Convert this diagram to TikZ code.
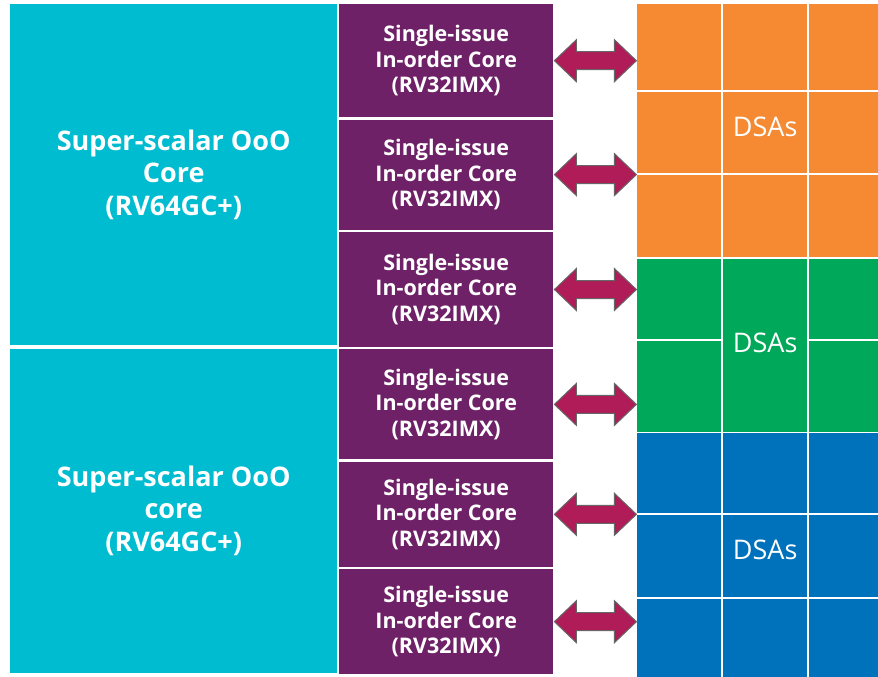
\documentclass[tikz,border=0pt]{standalone}
\usepackage{fontspec}
\setmainfont{Open Sans}
\usetikzlibrary{positioning, calc}

\definecolor{oooteal}{HTML}{00BCD0}
\definecolor{corepurple}{HTML}{6E2166}
\definecolor{dsaorange}{HTML}{F58A33}
\definecolor{dsagreen}{HTML}{00A859}
\definecolor{dsablue}{HTML}{0072BC}
\definecolor{linkred}{HTML}{B01C57}

\begin{document}
\begin{tikzpicture}[x=1pt, y=-1pt,
  every node/.style={align=center, text=white, inner sep=0pt},
  ooo/.style={fill=oooteal, minimum width=327pt, font=\bfseries\fontsize{27}{32.5}\selectfont},
  core/.style={fill=corepurple, minimum width=214pt, font=\bfseries\fontsize{21.5}{25.5}\selectfont},
  dsa/.style={minimum width=256pt},
  dsalabel/.style={font=\fontsize{27}{32}\selectfont},
  grid/.style={white, line width=2pt},
  link/.style={fill=linkred, draw=gray!80!black, line width=1pt}
]
\useasboundingbox (0,0) rectangle (878,677);

\node[ooo, minimum height=341pt, anchor=north west] (ooo1) at (10,4) {Super-scalar OoO\\Core\\(RV64GC+)};
\node[ooo, minimum height=324pt, below=3pt of ooo1] (ooo2) {Super-scalar OoO\\core\\(RV64GC+)};

\node[core, minimum height=113pt, anchor=north west] (core1) at (339,4) {Single-issue\\In-order Core\\(RV32IMX)};
\node[core, minimum height=110pt, below=2pt of core1] (core2) {Single-issue\\In-order Core\\(RV32IMX)};
\node[core, minimum height=115pt, below=2pt of core2] (core3) {Single-issue\\In-order Core\\(RV32IMX)};
\node[core, minimum height=110pt, below=2pt of core3] (core4) {Single-issue\\In-order Core\\(RV32IMX)};
\node[core, minimum height=105pt, below=2pt of core4] (core5) {Single-issue\\In-order Core\\(RV32IMX)};
\node[core, minimum height=105pt, below=2pt of core5] (core6) {Single-issue\\In-order Core\\(RV32IMX)};

\node[dsa, fill=dsaorange, minimum height=253pt, anchor=north west] (dsa1) at (637,4) {};
\node[dsa, fill=dsagreen, minimum height=173pt, below=1pt of dsa1] (dsa2) {};
\node[dsa, fill=dsablue, minimum height=245pt, below=1pt of dsa2] (dsa3) {};

% grid of the DSA tiles
\foreach \x in {722,808}
  \draw[grid] (\x,4) -- (\x,677);
\foreach \y in {91,174,514,598}
  \draw[grid] (637,\y) -- (893,\y);
\draw[grid] (637,340) -- (722,340);
\draw[grid] (808,340) -- (893,340);

\node[dsalabel] (lab1) at ($(dsa1.center)+(0,-4)$) {DSAs};
\node[dsalabel] (lab2) at ($(dsa2.center)+(0,-2)$) {DSAs};
\node[dsalabel] (lab3) at ($(dsa3.center)+(0,-6)$) {DSAs};

% links between the cores and the DSAs
\foreach \i in {1,...,6}
  \draw[link] ($(core\i.east)+(1,0)$) -- ++(22,-21) -- ++(0,12) -- ++(38,0) -- ++(0,-12)
    -- ++(22,21) -- ++(-22,21) -- ++(0,-12) -- ++(-38,0) -- ++(0,12) -- cycle;
\end{tikzpicture}
\end{document}
